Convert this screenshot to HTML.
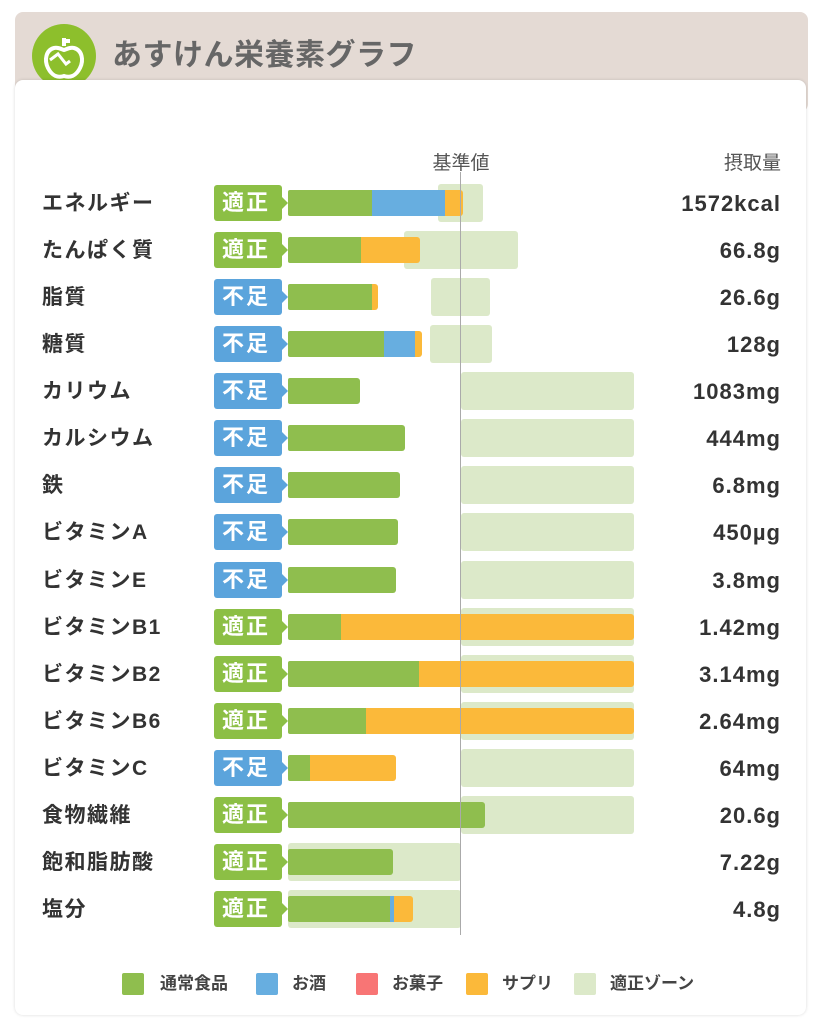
<!DOCTYPE html>
<html><head><meta charset="utf-8"><style>
body{margin:0;width:823px;height:1024px;background:#fff;position:relative;overflow:hidden;font-family:"Liberation Sans","Noto Sans CJK JP",sans-serif;}
.a{position:absolute}
.hdr{left:15px;top:12px;width:793px;height:100px;background:#e4dad4;border-radius:8px}
.panel{left:15px;top:80px;width:791px;height:935px;background:#fff;border-radius:8px;box-shadow:0 0 3px rgba(0,0,0,.15)}
.lbl{left:42px;font-size:21px;font-weight:bold;color:#333;line-height:26px;letter-spacing:1.5px}
.val{right:42px;font-size:22px;font-weight:bold;color:#333;line-height:26px;text-align:right;letter-spacing:1px}
.badge{left:214px;width:68px;height:36px;border-radius:3px;color:#fff;font-size:22px;font-weight:bold;line-height:36px;text-indent:8px;letter-spacing:2px}
.badge:after{content:"";position:absolute;right:-6px;top:12px;border-left:6px solid;border-left-color:inherit;border-top:6px solid transparent;border-bottom:6px solid transparent}
.ok{background:#8cbf45;border-color:#8cbf45}
.ng{background:#5ba4dc;border-color:#5ba4dc}
.z{background:#dce9c9;height:38px;border-radius:3px}
.b{height:26px}
.g{background:#8fbe4e}.bl{background:#67aee0}.o{background:#fbb93a}
.lg{top:973px;width:22px;height:22px;border-radius:2px}
.lt{top:973px;font-size:17px;color:#444;line-height:22px;font-weight:bold}
</style></head><body>
<div class="a hdr"></div>
<div class="a" style="left:32px;top:24px;width:64px;height:64px;border-radius:50%;background:#8dbf2c"></div>
<svg class="a" style="left:32px;top:24px" width="64" height="64" viewBox="0 0 64 64"><path d="M22 24c-8 2-10 12-6 20 4 8 10 10 16 8 6 2 12 0 16-8 4-8 2-18-6-20-4-1-7 1-10 2-3-1-6-3-10-2z" fill="none" stroke="#fff" stroke-width="4"/><path d="M32 22V14M32 17h6" stroke="#fff" stroke-width="4" fill="none"/><path d="M18 36l8-6 8 10 4-3" stroke="#fff" stroke-width="3" fill="none"/></svg>
<div class="a" style="left:112px;top:36px;font-size:30px;color:#666;font-weight:bold;line-height:40px;letter-spacing:0.5px">あすけん栄養素グラフ</div>
<div class="a panel"></div>
<div class="a" style="left:411px;top:148px;width:100px;text-align:center;font-size:19px;color:#555">基準値</div>
<div class="a" style="right:42px;top:148px;font-size:19px;color:#555">摂取量</div>
<div id="rows"></div>
<div class="a" style="left:460px;top:172px;width:1px;height:763px;background:#aaa;z-index:5"></div>
<div class="a lg g" style="left:122px"></div><div class="a lt" style="left:160px">通常食品</div>
<div class="a lg bl" style="left:256px"></div><div class="a lt" style="left:292px">お酒</div>
<div class="a lg" style="left:356px;background:#f87575"></div><div class="a lt" style="left:392px">お菓子</div>
<div class="a lg o" style="left:466px"></div><div class="a lt" style="left:502px">サプリ</div>
<div class="a lg" style="left:574px;background:#dce9c9"></div><div class="a lt" style="left:610px">適正ゾーン</div>
<script>
var R=[
["エネルギー",1,[438,483],[[372,"g"],[445,"bl"],[463,"o"]],"1572kcal"],
["たんぱく質",1,[404,518],[[361,"g"],[420,"o"]],"66.8g"],
["脂質",0,[431,490],[[372,"g"],[378,"o"]],"26.6g"],
["糖質",0,[430,492],[[384,"g"],[415,"bl"],[422,"o"]],"128g"],
["カリウム",0,[461,634],[[360,"g"]],"1083mg"],
["カルシウム",0,[461,634],[[405,"g"]],"444mg"],
["鉄",0,[461,634],[[400,"g"]],"6.8mg"],
["ビタミンA",0,[461,634],[[398,"g"]],"450µg"],
["ビタミンE",0,[461,634],[[396,"g"]],"3.8mg"],
["ビタミンB1",1,[461,634],[[341,"g"],[634,"o"]],"1.42mg"],
["ビタミンB2",1,[461,634],[[419,"g"],[634,"o"]],"3.14mg"],
["ビタミンB6",1,[461,634],[[366,"g"],[634,"o"]],"2.64mg"],
["ビタミンC",0,[461,634],[[310,"g"],[396,"o"]],"64mg"],
["食物繊維",1,[461,634],[[485,"g"]],"20.6g"],
["飽和脂肪酸",1,[288,461],[[393,"g"]],"7.22g"],
["塩分",1,[288,461],[[390,"g"],[394,"bl"],[413,"o"]],"4.8g"]];
var h="";
R.forEach(function(r,i){var c=203+i*47.07;
h+='<div class="a lbl" style="top:'+(c-12)+'px">'+r[0]+'</div>';
h+='<div class="a badge '+(r[1]?'ok':'ng')+'" style="top:'+(c-18)+'px">'+(r[1]?'適正':'不足')+'</div>';
h+='<div class="a z" style="left:'+r[2][0]+'px;width:'+(r[2][1]-r[2][0])+'px;top:'+(c-19)+'px"></div>';
var x=288;r[3].forEach(function(s,j){var last=j==r[3].length-1;
h+='<div class="a b '+s[1]+'" style="left:'+x+'px;width:'+(s[0]-x)+'px;top:'+(c-13)+'px;'+(j==0?'border-top-left-radius:2px;border-bottom-left-radius:2px;':'')+(last?'border-top-right-radius:3px;border-bottom-right-radius:3px;':'')+'"></div>';x=s[0];});
h+='<div class="a val" style="top:'+(c-12)+'px">'+r[4]+'</div>';});
document.getElementById("rows").innerHTML=h;
</script>
</body></html>
